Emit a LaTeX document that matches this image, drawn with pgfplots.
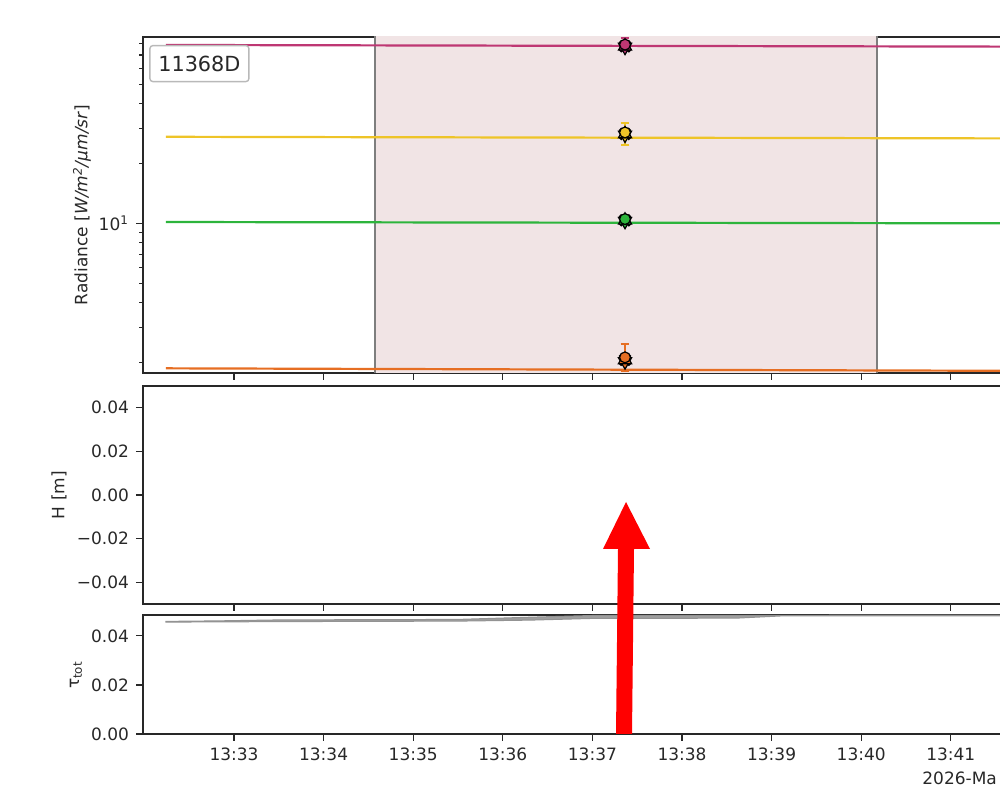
\documentclass[border=0pt]{standalone}
\usepackage{fontspec}
\setmainfont{DejaVu Sans}
\usepackage{pgfplots}
\pgfplotsset{compat=1.18}
\definecolor{cmag}{RGB}{190,55,115}
\definecolor{cyel}{RGB}{238,196,40}
\definecolor{cgrn}{RGB}{45,180,60}
\definecolor{corg}{RGB}{230,110,35}
\definecolor{cspan}{RGB}{241,228,229}
\definecolor{cax}{RGB}{40,40,40}
\newcommand{\tfont}{\fontsize{8.5}{10}\selectfont}
\pgfplotsset{
  mpl/.style={
    scale only axis, width=471.1pt,
    xmin=31.9844, xmax=42.5,
    axis line style={line width=0.65pt, cax},
    tick align=outside, tick pos=left,
    major tick length=3.5pt, minor tick length=2pt,
    every tick/.style={cax, line width=0.6pt},
    tick label style={font=\tfont, text=cax},
    xtick={33,34,35,36,37,38,39,40,41},
    scaled ticks=false,
    /pgf/number format/assume math mode=true,
  },
  cm/.style={only marks, mark=*, mark size=2.7pt, mark options={fill=#1, draw=black, line width=0.6pt}},
  ct/.style={only marks, mark=triangle*, mark size=3.8pt, mark options={fill=#1, draw=black, line width=0.6pt}},
  cd/.style={only marks, mark=triangle*, mark size=3.8pt, mark options={fill=#1, draw=black, line width=0.6pt, rotate=180}},
  cx/.style={only marks, mark=x, mark size=3.6pt, mark options={draw=black, line width=1.8pt}},
  eb/.style={only marks, mark=none, error bars/.cd, y dir=both, y explicit,
    error bar style={#1, line width=0.8pt},
    error mark options={#1, rotate=90, mark size=2.2pt, line width=0.8pt}},
}
\begin{document}
\begin{tikzpicture}
\useasboundingbox (0,0) rectangle (500pt,395.5pt);
\clip (0,0) rectangle (500pt,395.5pt);

% ---------- top panel ----------
\begin{axis}[mpl, at={(71.5pt,209pt)}, anchor=south west, height=168pt,
  ymode=log, ymin=1.77, ymax=86.3,
  ytick={10}, yticklabels={10\textsuperscript{1}},
  minor ytick={2,3,4,5,6,7,8,9,20,30,40,50,60,70,80},
  xticklabels={}]
\addplot[fill=cspan, draw=none] coordinates {(34.574,1.5) (40.176,1.5) (40.176,90) (34.574,90)} -- cycle;
\addplot[cax!60, line width=0.6pt] coordinates {(34.574,1.5) (34.574,90)};
\addplot[cax!60, line width=0.6pt] coordinates {(40.176,1.5) (40.176,90)};
\addplot[cmag, line width=1.1pt] coordinates {(32.24,78.7) (42.5,77.05)};
\addplot[cyel, line width=1.1pt] coordinates {(32.24,27.2) (42.5,26.65)};
\addplot[cgrn, line width=1.1pt] coordinates {(32.24,10.15) (42.5,9.98)};
\addplot[corg, line width=1.1pt] coordinates {(32.24,1.868) (42.5,1.81)};
% points with error bars
\addplot[eb=cmag] coordinates {(37.364,78) += (0,7) -= (0,5)};
\addplot[eb=cyel] coordinates {(37.364,28.4) += (0,3.5) -= (0,3.7)};
\addplot[eb=cgrn] coordinates {(37.364,10.4) += (0,0.5) -= (0,0.5)};
\addplot[eb=corg] coordinates {(37.364,2.1) += (0,0.37) -= (0,0.3)};
\addplot[cx] coordinates {(37.364,77.5)};
\addplot[cd=cmag] coordinates {(37.364,76.8)};
\addplot[ct=cmag] coordinates {(37.364,77.5)};
\addplot[cm=cmag] coordinates {(37.364,79)};
\addplot[cx] coordinates {(37.364,28.1)};
\addplot[cd=cyel] coordinates {(37.364,27.8)};
\addplot[ct=cyel] coordinates {(37.364,28.1)};
\addplot[cm=cyel] coordinates {(37.364,28.6)};
\addplot[cx] coordinates {(37.364,10.35)};
\addplot[cd=cgrn] coordinates {(37.364,10.25)};
\addplot[ct=cgrn] coordinates {(37.364,10.35)};
\addplot[cm=cgrn] coordinates {(37.364,10.5)};
\addplot[cx] coordinates {(37.364,2.06)};
\addplot[cd=corg] coordinates {(37.364,2.02)};
\addplot[ct=corg] coordinates {(37.364,2.06)};
\addplot[cm=corg] coordinates {(37.364,2.12)};
\end{axis}

% ---------- middle panel ----------
\begin{axis}[mpl, at={(71.5pt,93.5pt)}, anchor=south west, height=109pt,
  ymin=-0.05, ymax=0.05,
  ytick={-0.04,-0.02,0,0.02,0.04},
  yticklabels={−0.04,−0.02,0.00,0.02,0.04},
  xticklabels={}]
\end{axis}

% ---------- bottom panel ----------
\begin{axis}[mpl, at={(71.5pt,28.5pt)}, anchor=south west, height=59.5pt,
  ymin=0, ymax=0.0485,
  ytick={0,0.02,0.04}, yticklabels={0.00,0.02,0.04},
  xticklabels={13:33,13:34,13:35,13:36,13:37,13:38,13:39,13:40,13:41}]
\addplot[fill=gray!75, draw=gray!85, line width=0.5pt] coordinates {
 (32.24,0.0459) (32.8,0.0461) (33.5,0.0465) (35.5,0.0467) (36.3,0.0476) (37.0,0.0483) (42.5,0.0485)
 (42.5,0.0482) (39.1,0.0481) (38.6,0.0472) (37.0,0.0471) (36.3,0.0464) (35.5,0.0460) (33.5,0.0458) (32.24,0.0456)} -- cycle;
\end{axis}

% labels
\node[rotate=90, font=\fontsize{8.5}{10}\selectfont, text=cax] at (41pt,293pt) {Radiance [\textit{W/m}\textsuperscript{\textit{2}}\textit{/μm/sr}]};
\node[rotate=90, font=\fontsize{8.5}{10}\selectfont, text=cax] at (29.5pt,148pt) {H [m]};
\node[rotate=90, font=\fontsize{8.5}{10}\selectfont, text=cax] at (38pt,58pt) {τ\textsubscript{tot}};
\node[anchor=west, font=\fontsize{8.5}{10}\selectfont, text=cax, inner sep=0pt] at (461pt,6.5pt) {2026-Ma};
\node[draw=gray!55, fill=white, rounded corners=1.5pt, line width=0.7pt, minimum width=49.5pt, minimum height=18pt, inner sep=0pt, font=\fontsize{10.4}{12}\selectfont, text=cax] at (99.7pt,363.7pt) {11368D};

% red arrow annotation
\fill[red] (308pt,28.5pt) -- (316pt,28.5pt) -- (317pt,121pt) -- (325pt,121pt) -- (313pt,144.5pt) -- (301.5pt,121pt) -- (309pt,121pt) -- cycle;
\end{tikzpicture}
\end{document}
